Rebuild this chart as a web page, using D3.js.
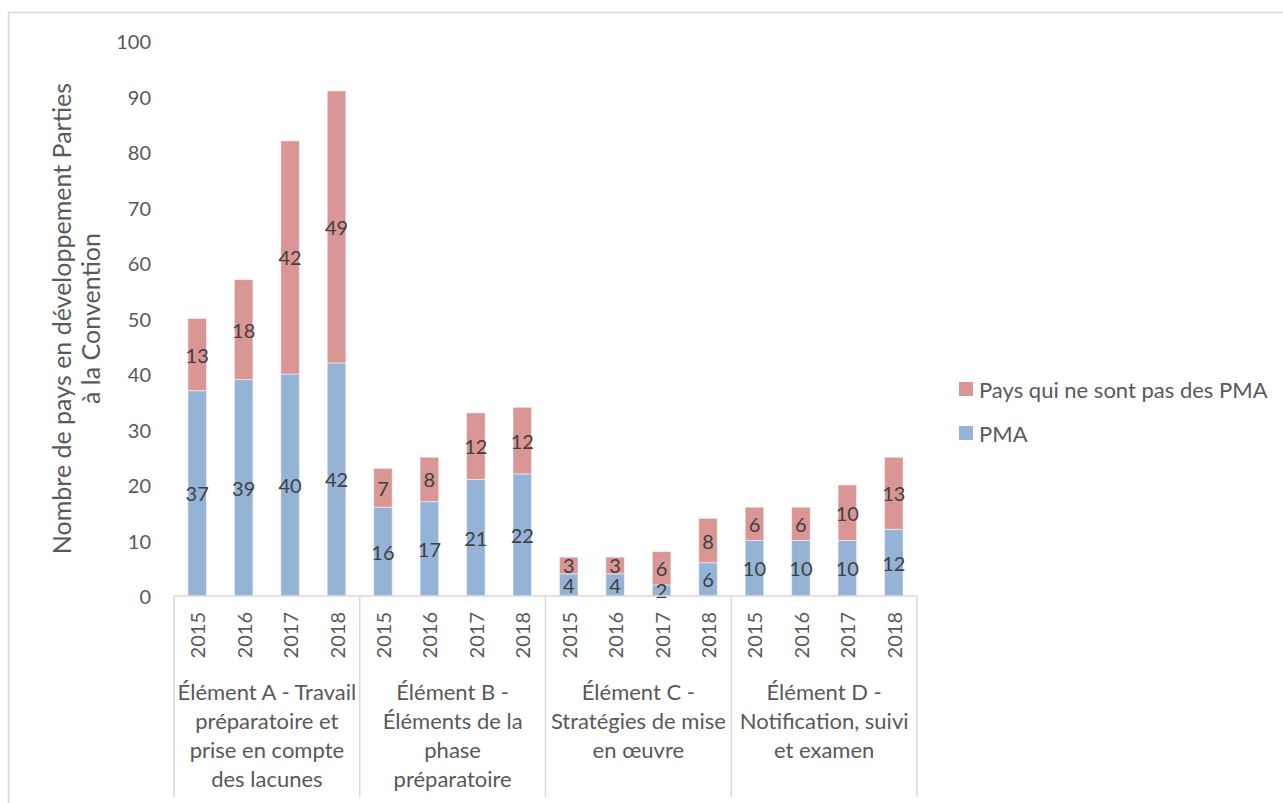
<!DOCTYPE html>
<html>
<head>
<meta charset="utf-8">
<script src="https://cdn.jsdelivr.net/npm/d3@7"></script>
<style>
  body { margin: 0; background: #fff; }
  text { font-family: Lato, "Open Sans", sans-serif; }
</style>
</head>
<body>
<div id="container"></div>
<script>
const years = ["2015", "2016", "2017", "2018"];
const groups = ["A", "B", "C", "D"];
const groupLabels = [
    ["Élément A - Travail", "préparatoire et", "prise en compte", "des lacunes"],
    ["Élément B -", "Éléments de la", "phase", "préparatoire"],
    ["Élément C -", "Stratégies de mise", "en œuvre"],
    ["Élément D -", "Notification, suivi", "et examen"]
];
const pma = [37, 39, 40, 42, 16, 17, 21, 22, 4, 4, 2, 6, 10, 10, 10, 12];
const nonPma = [13, 18, 42, 49, 7, 8, 12, 12, 3, 3, 6, 8, 6, 6, 10, 13];
const yTicks = [0, 10, 20, 30, 40, 50, 60, 70, 80, 90, 100];
const seriesNames = ["Pays qui ne sont pas des PMA", "PMA"];

const colors = { pma: "#95b3d7", non: "#d99694" };
const textCol = "#595959",
    lineCol = "#d9d9d9";

const W = 1283, H = 803;

const svg = d3.select('#container')
    .append('svg')
        .attr('width', W)
        .attr('height', H);

// chart frame
svg.append('rect')
    .attr('x', 8.5).attr('y', 12.5)
    .attr('width', W + 20).attr('height', H + 20)
    .attr('fill', 'none')
    .attr('stroke', lineCol)
    .attr('stroke-width', 1.5);

const data = [];
groups.forEach((g, gi) => {
    years.forEach((yr, yi) => {
        const i = gi * 4 + yi;
        data.push({ g: g, year: yr, pma: pma[i], non: nonPma[i] });
    });
});

const x0 = d3.scaleBand().domain(groups).range([174, 917]);
const x1 = d3.scaleBand().domain(years).range([0, x0.bandwidth()])
    .paddingInner(0.6).paddingOuter(0.3);
const y = d3.scaleLinear().domain([0, 100]).range([596, 41]);

// y tick labels
svg.append('g').selectAll('text')
    .data(yTicks)
    .join('text')
        .attr('x', 151)
        .attr('y', d => y(d))
        .attr('text-anchor', 'end')
        .attr('dominant-baseline', 'central')
        .attr('fill', textCol)
        .style('font-size', '20px')
        .text(d => d);

// y title
const yTitle = svg.append('text')
    .attr('transform', 'translate(62,' + y(50) + ') rotate(-90)')
    .attr('text-anchor', 'middle')
    .attr('fill', textCol)
    .style('font-size', '25px');
yTitle.append('tspan').attr('x', 0).attr('dy', '0.35em').text("Nombre de pays en développement Parties");
yTitle.append('tspan').attr('x', 0).attr('dy', 29).text("à la Convention");

// bars
const bars = svg.append('g').selectAll('g')
    .data(data)
    .join('g')
        .attr('transform', d => 'translate(' + (x0(d.g) + x1(d.year)) + ',0)');

bars.append('rect')
    .attr('x', 0)
    .attr('width', x1.bandwidth())
    .attr('y', d => y(d.pma))
    .attr('height', d => y(0) - y(d.pma))
    .attr('fill', colors.pma)
    .attr('stroke', '#fff').attr('stroke-opacity', 0.5);

bars.append('rect')
    .attr('x', 0)
    .attr('width', x1.bandwidth())
    .attr('y', d => y(d.pma + d.non))
    .attr('height', d => y(d.pma) - y(d.pma + d.non))
    .attr('fill', colors.non)
    .attr('stroke', '#fff').attr('stroke-opacity', 0.5);

// data labels
bars.append('text')
    .attr('x', x1.bandwidth() / 2)
    .attr('y', d => y(d.pma / 2))
    .attr('text-anchor', 'middle')
    .attr('dominant-baseline', 'central')
    .attr('fill', '#404040')
    .style('font-size', '20px')
    .text(d => d.pma);

bars.append('text')
    .attr('x', x1.bandwidth() / 2)
    .attr('y', d => y(d.pma + d.non / 2))
    .attr('text-anchor', 'middle')
    .attr('dominant-baseline', 'central')
    .attr('fill', '#404040')
    .style('font-size', '20px')
    .text(d => d.non);

// x axis line and group separators
svg.append('line')
    .attr('x1', x0.range()[0]).attr('x2', x0.range()[1])
    .attr('y1', y(0)).attr('y2', y(0))
    .attr('stroke', lineCol).attr('stroke-width', 1.5);

svg.append('g').selectAll('line')
    .data(groups.map(g => x0(g)).concat([x0.range()[1]]))
    .join('line')
        .attr('x1', d => d).attr('x2', d => d)
        .attr('y1', y(0)).attr('y2', 797)
        .attr('stroke', lineCol).attr('stroke-width', 1.5);

// year labels
bars.append('text')
    .attr('transform', 'translate(' + (x1.bandwidth() / 2) + ',612) rotate(-90)')
    .attr('text-anchor', 'end')
    .attr('dominant-baseline', 'central')
    .attr('fill', textCol)
    .style('font-size', '20px')
    .text(d => d.year);

// group labels
const gl = svg.append('g').selectAll('text')
    .data(groups)
    .join('text')
        .attr('x', d => x0(d) + x0.bandwidth() / 2)
        .attr('y', 700)
        .attr('text-anchor', 'middle')
        .attr('fill', textCol)
        .style('font-size', '22px');

gl.selectAll('tspan')
    .data((d, i) => groupLabels[i])
    .join('tspan')
        .attr('x', function() { return this.parentNode.getAttribute('x'); })
        .attr('dy', (d, i) => i === 0 ? 0 : 29)
        .text(d => d);

// legend
const legend = svg.append('g').selectAll('g')
    .data(seriesNames)
    .join('g')
        .attr('transform', (d, i) => 'translate(959,' + (382 + i * 44) + ')');

legend.append('rect')
    .attr('width', 14).attr('height', 14)
    .attr('fill', (d, i) => i === 0 ? colors.non : colors.pma);

legend.append('text')
    .attr('x', 20).attr('y', 7)
    .attr('dominant-baseline', 'central')
    .attr('fill', textCol)
    .style('font-size', '22px')
    .text(d => d);
</script>
</body>
</html>
